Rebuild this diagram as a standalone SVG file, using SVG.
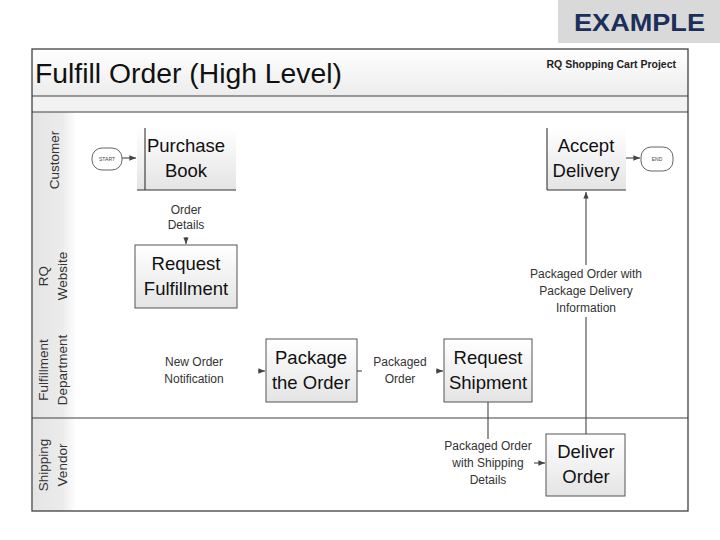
<svg xmlns="http://www.w3.org/2000/svg" width="720" height="540" viewBox="0 0 720 540">
<style>
.frame{fill:none;stroke:#404040;stroke-width:1.3}
.sep{stroke:#404040;stroke-width:1.2}
.box{fill:url(#boxg);stroke:#555;stroke-width:1}
.edge{stroke:#333;stroke-width:1.1}
.nt{font-family:"Liberation Sans",Arial,sans-serif;font-size:18.5px;fill:#111;text-anchor:middle}
.lbl{font-family:"Liberation Sans",Arial,sans-serif;font-size:12px;fill:#333;text-anchor:middle}
.lane{font-family:"Liberation Sans",Arial,sans-serif;font-size:13.5px;fill:#333;text-anchor:middle}
.conn{fill:none;stroke:#444;stroke-width:1.1}
.term{fill:#fff;stroke:#666;stroke-width:1}
.tt{font-family:"Liberation Sans",Arial,sans-serif;font-size:5px;fill:#444;text-anchor:middle}
</style>
<defs>
<linearGradient id="boxg" x1="0" y1="0" x2="0" y2="1"><stop offset="0" stop-color="#ffffff"/><stop offset="1" stop-color="#e4e4e4"/></linearGradient>
<linearGradient id="titleg" x1="0" y1="0" x2="0" y2="1"><stop offset="0" stop-color="#ffffff"/><stop offset="1" stop-color="#ececec"/></linearGradient>
<linearGradient id="laneg" x1="0" y1="0" x2="1" y2="0"><stop offset="0" stop-color="#e4e4e4"/><stop offset="0.7" stop-color="#ececec"/><stop offset="1" stop-color="#ffffff"/></linearGradient>
<marker id="ah" viewBox="0 0 10 10" refX="10" refY="5" markerWidth="6" markerHeight="6" orient="auto"><path d="M0,1 L10,5 L0,9 z" fill="#444"/></marker>
</defs>
<rect x="0" y="0" width="720" height="540" fill="#fff"/>
<g id="example-badge">
<rect x="558" y="0" width="162" height="43" fill="#d9d9d9"/>
<text x="574" y="31" font-family="Liberation Sans,Arial,sans-serif" font-size="24" font-weight="bold" fill="#1b2f5a" textLength="131" lengthAdjust="spacingAndGlyphs">EXAMPLE</text>
</g>
<g id="pool">
<rect x="32" y="49" width="656" height="47" fill="url(#titleg)"/>
<rect x="32" y="96" width="656" height="16" fill="#f2f2f2"/>
<rect x="33" y="112" width="43" height="399" fill="url(#laneg)"/>
<line class="sep" x1="32" y1="96" x2="688" y2="96"/>
<line class="sep" x1="32" y1="112" x2="688" y2="112"/>
<line class="sep" x1="32" y1="418" x2="688" y2="418"/>
<rect class="frame" x="32" y="49" width="656" height="462"/>
<text x="35" y="83" font-family="Liberation Sans,Arial,sans-serif" font-size="27" fill="#111" textLength="307" lengthAdjust="spacingAndGlyphs">Fulfill Order (High Level)</text>
<text x="676" y="68" font-family="Liberation Sans,Arial,sans-serif" font-size="10.5" font-weight="bold" fill="#222" text-anchor="end">RQ Shopping Cart Project</text>
<text class="lane" transform="translate(59,160) rotate(-90)">Customer</text>
<text class="lane" transform="translate(48,276) rotate(-90)">RQ</text>
<text class="lane" transform="translate(67,276) rotate(-90)">Website</text>
<text class="lane" transform="translate(48,370) rotate(-90)">Fulfillment</text>
<text class="lane" transform="translate(67,370) rotate(-90)">Department</text>
<text class="lane" transform="translate(48,465) rotate(-90)">Shipping</text>
<text class="lane" transform="translate(67,465) rotate(-90)">Vendor</text>
</g>
<g id="connectors">
<path class="conn" d="M122 158 L136 158" marker-end="url(#ah)"/>
<path class="conn" d="M186 237 L186 244" marker-end="url(#ah)"/>
<path class="conn" d="M258 371 L265 371" marker-end="url(#ah)"/>
<path class="conn" d="M357 371 L362 371"/>
<path class="conn" d="M436 371 L443 371" marker-end="url(#ah)"/>
<path class="conn" d="M488 402 L488 439"/>
<path class="conn" d="M534 463 L545 463" marker-end="url(#ah)"/>
<path class="conn" d="M586 434 L586 317"/>
<path class="conn" d="M586 265 L586 192" marker-end="url(#ah)"/>
<path class="conn" d="M626 158 L640 158" marker-end="url(#ah)"/>
<text class="lbl" x="186" y="214">Order</text>
<text class="lbl" x="186" y="229">Details</text>
<text class="lbl" x="194" y="366">New Order</text>
<text class="lbl" x="194" y="383">Notification</text>
<text class="lbl" x="400" y="366">Packaged</text>
<text class="lbl" x="400" y="383">Order</text>
<text class="lbl" x="488" y="450">Packaged Order</text>
<text class="lbl" x="488" y="467">with Shipping</text>
<text class="lbl" x="488" y="484">Details</text>
<text class="lbl" x="586" y="278">Packaged Order with</text>
<text class="lbl" x="586" y="295">Package Delivery</text>
<text class="lbl" x="586" y="312">Information</text>
</g>
<g id="start">
<rect class="term" x="92" y="148" width="30" height="22" rx="10"/>
<text class="tt" x="107" y="161">START</text>
</g>
<g id="purchase-book">
<rect x="137" y="128" width="99" height="62" fill="url(#boxg)"/>
<line class="edge" x1="145" y1="128" x2="145" y2="190"/>
<line class="edge" x1="137" y1="190" x2="236" y2="190"/>
<text class="nt" x="186" y="152">Purchase</text>
<text class="nt" x="186" y="177">Book</text>
</g>
<g id="request-fulfillment">
<rect class="box" x="135" y="245" width="102" height="63"/>
<text class="nt" x="186" y="270">Request</text>
<text class="nt" x="186" y="295">Fulfillment</text>
</g>
<g id="package-the-order">
<rect class="box" x="266" y="339" width="91" height="63"/>
<text class="nt" x="311" y="364">Package</text>
<text class="nt" x="311" y="389">the Order</text>
</g>
<g id="request-shipment">
<rect class="box" x="444" y="339" width="88" height="63"/>
<text class="nt" x="488" y="364">Request</text>
<text class="nt" x="488" y="389">Shipment</text>
</g>
<g id="deliver-order">
<rect class="box" x="546" y="434" width="79" height="62"/>
<text class="nt" x="586" y="458">Deliver</text>
<text class="nt" x="586" y="483">Order</text>
</g>
<g id="accept-delivery">
<rect x="547" y="128" width="79" height="62" fill="url(#boxg)"/>
<line class="edge" x1="547" y1="128" x2="547" y2="190"/>
<line class="edge" x1="547" y1="190" x2="626" y2="190"/>
<text class="nt" x="586" y="152">Accept</text>
<text class="nt" x="586" y="177">Delivery</text>
</g>
<g id="end">
<rect class="term" x="641" y="147" width="32" height="24" rx="10"/>
<text class="tt" x="657" y="161">END</text>
</g>
</svg>
